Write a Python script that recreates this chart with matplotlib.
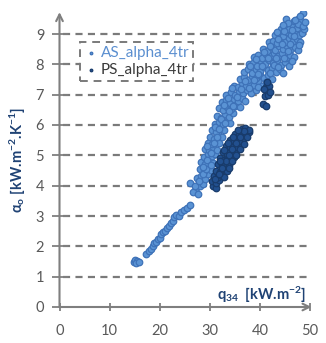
import matplotlib
matplotlib.use("Agg")
import matplotlib.pyplot as plt

# ---- data ----
as_pts = [
    (14.8,1.50),(15.1,1.56),(15.5,1.52),(15.3,1.45),(15.8,1.49),
    (17.3,1.76),(17.8,1.86),(18.2,1.92),(18.6,2.02),(18.9,2.12),(19.3,2.14),(19.7,2.24),
    (20.1,2.28),(20.3,2.40),(20.7,2.46),(21.1,2.50),(21.4,2.61),(21.9,2.66),(22.2,2.78),
    (22.6,2.84),(22.9,2.98),(23.3,3.04),(23.8,3.01),(24.3,3.12),(24.9,3.20),(25.5,3.27),(26.1,3.36),
    (26.0,4.10),(27.3,3.93),(26.6,3.80),(27.6,3.72),(28.1,3.98),(28.7,4.05),
    (27.4,4.25),(28.2,4.32),(29.0,4.22),(29.6,4.38),(28.0,4.55),(28.9,4.48),(29.7,4.62),(30.3,4.51),
    (28.3,4.78),(29.1,4.70),(30.0,4.85),(30.6,4.74),(28.8,4.95),(29.6,5.04),(30.4,4.98),(31.1,5.06),
    (29.1,5.20),(29.9,5.16),(30.7,5.28),(31.5,5.18),(29.6,5.42),(30.4,5.36),(31.2,5.48),(31.9,5.40),
    (30.0,5.62),(30.8,5.55),(31.6,5.70),(32.4,5.60),(30.5,5.84),(31.3,5.78),(32.1,5.92),(32.9,5.83),
    (31.0,6.04),(31.8,6.10),(32.6,6.02),(33.4,6.14),(34.1,6.06),
    (31.5,6.30),(32.3,6.24),(33.1,6.36),(33.9,6.28),(34.7,6.40),
    (31.9,6.55),(32.7,6.48),(33.5,6.60),(34.3,6.52),(35.1,6.64),(36.0,6.58),
    (32.4,6.76),(33.2,6.82),(34.0,6.72),(34.8,6.86),(35.6,6.78),(36.4,6.90),(37.1,6.80),
    (33.3,7.00),(34.3,7.10),(35.1,6.98),(35.9,7.12),(36.7,7.04),(37.5,7.16),(38.3,7.06),(39.2,7.14),
    (34.9,7.30),(35.7,7.24),(36.5,7.38),(37.3,7.28),(38.1,7.40),(38.9,7.32),(39.7,7.44),(40.5,7.30),
    (36.0,7.52),(36.8,7.58),(37.6,7.48),(38.4,7.62),(39.2,7.54),(40.0,7.66),(40.8,7.56),(41.6,7.64),(42.4,7.52),
    (36.8,7.76),(37.6,7.84),(38.4,7.72),(39.2,7.86),(40.0,7.78),(40.8,7.90),(41.6,7.80),(42.4,7.88),(43.2,7.74),(44.0,7.84),
    (37.8,8.00),(38.6,8.06),(39.4,7.96),(40.2,8.10),(41.0,8.02),(41.8,8.14),(42.6,8.04),(43.4,8.12),(44.2,7.98),(45.0,8.08),(45.8,7.96),
    (38.8,8.24),(39.6,8.30),(40.4,8.20),(41.2,8.34),(42.0,8.26),(42.8,8.38),(43.6,8.28),(44.4,8.36),(45.2,8.22),(46.0,8.32),(46.8,8.24),
    (40.6,8.50),(41.4,8.44),(42.2,8.56),(43.0,8.48),(43.8,8.60),(44.6,8.50),(45.4,8.62),(46.2,8.52),(47.0,8.58),(47.6,8.46),
    (41.8,8.72),(42.6,8.78),(43.4,8.70),(44.2,8.82),(45.0,8.74),(45.8,8.86),(46.6,8.76),(47.4,8.84),(48.1,8.72),
    (43.0,8.96),(43.8,9.02),(44.6,8.94),(45.4,9.06),(46.2,8.98),(47.0,9.08),(47.8,8.98),(48.5,9.04),
    (44.2,9.18),(45.0,9.24),(45.8,9.16),(46.6,9.28),(47.4,9.20),(48.2,9.30),(48.9,9.18),
    (45.2,9.48),(46.8,9.42),(47.6,9.50),(48.3,9.44),(48.6,9.68),
    (27.0,4.00),(27.9,4.15),(28.6,4.40),(29.3,4.55),(28.6,4.62),(29.4,4.86),(30.2,4.68),
    (29.5,5.30),(30.2,5.08),(30.9,5.42),(31.4,5.62),(31.0,5.95),(31.8,5.86),(32.2,6.20),
    (33.0,6.05),(33.8,6.45),(32.8,6.66),(33.6,6.90),(34.6,6.62),(35.5,6.92),(34.5,7.22),
    (36.2,7.20),(37.0,7.45),(37.9,7.22),(38.8,7.50),(39.6,7.26),(41.2,7.42),(38.0,7.95),
    (39.6,7.68),(40.4,7.96),(42.0,7.70),(42.8,7.98),(43.6,7.92),(44.6,7.70),(39.2,8.16),
    (40.8,8.42),(41.6,8.20),(43.2,8.22),(44.8,8.20),(45.6,8.44),(46.4,8.12),(42.0,8.62),
    (43.6,8.84),(44.4,8.66),(46.0,8.68),(46.8,8.94),(47.8,8.64),(43.4,9.08),(44.8,9.10),
    (46.4,9.12),(47.6,9.34),(48.6,9.26),(45.6,9.36),(47.0,9.46),(48.0,9.58),(44.6,9.30),(49.0,9.38),
]
ps_pts = [
    (30.6,3.98),(31.2,3.92),(30.5,4.14),(31.3,4.10),(31.9,4.18),
    (30.9,4.32),(31.6,4.28),(32.3,4.36),(32.9,4.30),
    (31.3,4.50),(32.0,4.46),(32.7,4.54),(33.4,4.48),
    (31.7,4.70),(32.4,4.66),(33.1,4.74),(33.8,4.68),
    (32.1,4.90),(32.8,4.86),(33.5,4.94),(34.2,4.88),(34.8,4.96),
    (32.7,5.10),(33.4,5.06),(34.1,5.14),(34.8,5.08),(35.4,5.16),
    (33.3,5.30),(34.0,5.26),(34.7,5.34),(35.4,5.28),(36.1,5.36),
    (34.1,5.50),(34.8,5.46),(35.5,5.54),(36.2,5.48),(36.9,5.56),
    (35.1,5.70),(35.8,5.66),(36.5,5.74),(37.2,5.68),(37.8,5.76),
    (36.4,5.86),(37.1,5.90),(37.9,5.84),
    (31.0,4.22),(31.8,4.40),(32.5,4.58),(33.2,4.80),(33.9,5.00),(34.5,5.20),(35.2,5.42),
    (36.0,5.60),(36.8,5.80),(32.0,4.80),(32.9,5.18),(33.7,5.40),(34.6,5.62),(35.6,5.84),
    (33.8,4.58),(34.5,4.80),(35.3,5.00),(36.0,5.20),(36.8,5.38),(37.5,5.60),
    (40.6,6.70),(41.2,6.62),(41.0,6.94),(41.6,7.00),(41.3,7.24),(41.9,7.30),
    (40.8,7.18),(42.0,7.08),(41.5,7.42),
]
as_q34 = [p[0] for p in as_pts]
as_alpha = [p[1] for p in as_pts]
ps_q34 = [p[0] for p in ps_pts]
ps_alpha = [p[1] for p in ps_pts]
x_ticks = [0, 10, 20, 30, 40, 50]
y_ticks = [0, 1, 2, 3, 4, 5, 6, 7, 8, 9]
series_names = ["AS_alpha_4tr", "PS_alpha_4tr"]

FONT = ["Lato", "DejaVu Sans"]
plt.rcParams["font.family"] = FONT
plt.rcParams["mathtext.fontset"] = "custom"
plt.rcParams["mathtext.rm"] = "Lato"
plt.rcParams["mathtext.bf"] = "Lato:bold"
plt.rcParams["mathtext.it"] = "Lato:italic"

W, H = 326, 343
fig = plt.figure(figsize=(W / 100, H / 100), dpi=100)
x0px, x50px = 59.5, 310.0
y0px, y9px = 307.0, 34.0
ppx = (x50px - x0px) / 50
ppy = (y0px - y9px) / 9
xmax, ymax = 50.4, 9.75
ax = fig.add_axes([x0px / W, 1 - y0px / H, xmax * ppx / W, ymax * ppy / H])
ax.set_xlim(0, xmax)
ax.set_ylim(0, ymax)

axis_col = "#7f7f7f"
for s in ax.spines.values():
    s.set_visible(False)

for yv in y_ticks[1:]:
    ax.plot([0.6, 50], [yv, yv], color="#7a7a7a", lw=1.6,
            ls=(0, (3.2, 2.4)), zorder=1)

ax.annotate("", xy=(0, 9.72), xytext=(0, 0),
            arrowprops=dict(arrowstyle="->", color=axis_col, lw=1.5,
                            mutation_scale=12, shrinkA=0, shrinkB=0),
            annotation_clip=False, zorder=4)
ax.annotate("", xy=(50.3, 0), xytext=(0, 0),
            arrowprops=dict(arrowstyle="->", color=axis_col, lw=1.5,
                            mutation_scale=12, shrinkA=0, shrinkB=0),
            annotation_clip=False, zorder=4)

ax.set_xticks(x_ticks)
ax.set_yticks(y_ticks)
ax.tick_params(axis="y", direction="inout", length=12, width=1.3,
               color=axis_col, labelcolor="#595959", labelsize=10.5, pad=5)
ax.tick_params(axis="x", direction="inout", length=6, width=1.3,
               color=axis_col, labelcolor="#595959", labelsize=10.5, pad=9)

ax.scatter(as_q34, as_alpha, s=22, facecolor="#5a93d4", edgecolor="#3e72b8",
           linewidths=0.9, zorder=2, label=series_names[0])
ax.scatter(ps_q34, ps_alpha, s=22, facecolor="#22508f", edgecolor="#183b6b",
           linewidths=0.9, zorder=3, label=series_names[1])

axw = xmax * ppx
axh = ymax * ppy
leg = ax.legend(loc="upper left",
                bbox_to_anchor=((80 - x0px) / axw, (y0px - 42) / axh),
                borderaxespad=0, fontsize=11, markerscale=0.4,
                handletextpad=0.1, handlelength=1.0, borderpad=0.25,
                labelspacing=0.2, fancybox=False, framealpha=1)
fr = leg.get_frame()
fr.set_edgecolor("#7a7a7a")
fr.set_linestyle((0, (4, 3)))
fr.set_linewidth(1.4)
leg.get_texts()[0].set_color("#5b8fd0")
leg.get_texts()[1].set_color("#3a3a3a")

lab_col = "#1f4274"
fig.text(18 / W, 1 - 160 / H, r"α$_\mathbf{o}$ [kW.m$^\mathbf{-2}$.K$^\mathbf{-1}$]",
         rotation=90, ha="center", va="center", color=lab_col, fontsize=10.5,
         fontweight="bold")
fig.text(306 / W, 1 - 295 / H, r"q$_\mathbf{34}$  [kW.m$^\mathbf{-2}$]",
         ha="right", va="center", color=lab_col, fontsize=10.5, fontweight="bold")

fig.savefig("out.png", dpi=100, facecolor="white")
